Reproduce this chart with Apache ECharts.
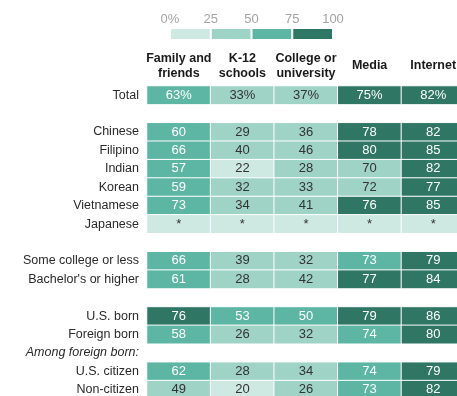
<!DOCTYPE html>
<html>
<head>
<meta charset="utf-8">
<script src="https://cdn.jsdelivr.net/npm/echarts@6/dist/echarts.min.js"></script>
<style>
  html, body { margin: 0; padding: 0; background: #fff; }
  #chart { width: 457px; height: 396px; }
</style>
</head>
<body>
<div id="chart"></div>
<script>
const columns = ['Family and\nfriends', 'K-12\nschools', 'College or\nuniversity', 'Media', 'Internet']

// '' rows are spacer gaps, '#among' is the italic subheading row
const rowLabels = [
  'Total', '',
  'Chinese', 'Filipino', 'Indian', 'Korean', 'Vietnamese', 'Japanese', '',
  'Some college or less', "Bachelor's or higher", '',
  'U.S. born', 'Foreign born', '#among', 'U.S. citizen', 'Non-citizen'
]

// percentages per row (null = too few cases, shown as *)
const rowValues = {
  'Total': [63, 33, 37, 75, 82],
  'Chinese': [60, 29, 36, 78, 82],
  'Filipino': [66, 40, 46, 80, 85],
  'Indian': [57, 22, 28, 70, 82],
  'Korean': [59, 32, 33, 72, 77],
  'Vietnamese': [73, 34, 41, 76, 85],
  'Japanese': [null, null, null, null, null],
  'Some college or less': [66, 39, 32, 73, 79],
  "Bachelor's or higher": [61, 28, 42, 77, 84],
  'U.S. born': [76, 53, 50, 79, 86],
  'Foreign born': [58, 26, 32, 74, 80],
  'U.S. citizen': [62, 28, 34, 74, 79],
  'Non-citizen': [49, 20, 26, 73, 82]
}

// shade bucket as drawn in the source (0 = lightest .. 3 = darkest)
const rowShades = {
  'Total': [2, 1, 1, 3, 3],
  'Chinese': [2, 1, 1, 3, 3],
  'Filipino': [2, 1, 1, 3, 3],
  'Indian': [2, 0, 1, 1, 3],
  'Korean': [2, 1, 1, 1, 3],
  'Vietnamese': [2, 1, 1, 3, 3],
  'Japanese': [0, 0, 0, 0, 0],
  'Some college or less': [2, 1, 1, 2, 3],
  "Bachelor's or higher": [2, 1, 1, 3, 3],
  'U.S. born': [3, 2, 2, 3, 3],
  'Foreign born': [2, 1, 1, 2, 3],
  'U.S. citizen': [2, 1, 1, 2, 3],
  'Non-citizen': [1, 0, 1, 2, 3]
}

const legendBreaks = [0, 25, 50, 75, 100]
const shades = ['#cde9e2', '#9fd3c6', '#5db6a3', '#2f7664']

const chart = echarts.init(document.getElementById('chart'))
const font = '"Liberation Sans", Arial, sans-serif'

const cells = []
rowLabels.forEach((name, y) => {
  const vals = rowValues[name]
  if (!vals) return
  vals.forEach((v, x) => {
    const shade = rowShades[name][x]
    let text = v === null ? '*' : String(v)
    if (name === 'Total') text += '%'
    cells.push({
      value: [x, y, v === null ? 0 : v],
      itemStyle: { color: shades[shade] },
      label: { formatter: text, color: shade >= 2 ? '#fff' : '#333' }
    })
  })
})

const legendSeries = shades.map((c, i) => ({
  type: 'bar',
  xAxisIndex: 1,
  yAxisIndex: 1,
  stack: 'legend',
  barWidth: '100%',
  silent: true,
  data: [legendBreaks[i + 1] - legendBreaks[i]],
  itemStyle: { color: c, borderColor: '#fff', borderWidth: 1 }
}))

chart.setOption({
  animation: false,
  textStyle: { fontFamily: font },
  grid: [
    { left: 147, width: 318, top: 86, height: 313, outerBoundsMode: 'none' },
    { left: 170, width: 163, top: 28, height: 12, outerBoundsMode: 'none' }
  ],
  xAxis: [
    {
      type: 'category',
      data: columns,
      position: 'top',
      axisLine: { show: false },
      axisTick: { show: false },
      splitLine: { show: false },
      axisLabel: {
        interval: 0,
        margin: 20,
        verticalAlign: 'middle',
        fontSize: 12.5,
        fontWeight: 'bold',
        lineHeight: 15,
        color: '#1a1a1a',
        fontFamily: font
      }
    },
    {
      type: 'value',
      gridIndex: 1,
      min: 0,
      max: 100,
      interval: 25,
      position: 'top',
      axisLine: { show: false },
      axisTick: { show: false },
      splitLine: { show: false },
      axisLabel: {
        margin: 2,
        fontSize: 13,
        color: '#a3a3a3',
        fontFamily: font,
        formatter: v => (v === 0 ? '0%' : String(v))
      }
    }
  ],
  yAxis: [
    {
      type: 'category',
      data: rowLabels,
      inverse: true,
      axisLine: { show: false },
      axisTick: { show: false },
      splitLine: { show: false },
      axisLabel: {
        interval: 0,
        margin: 8,
        fontSize: 12.5,
        color: '#2a2a2a',
        fontFamily: font,
        formatter: v => (v === '#among' ? '{it|Among foreign born:}' : v),
        rich: { it: { fontStyle: 'italic', fontSize: 12.5, color: '#2a2a2a', fontFamily: font } }
      }
    },
    {
      type: 'category',
      gridIndex: 1,
      data: ['scale'],
      show: false
    }
  ],
  series: [
    {
      type: 'heatmap',
      data: cells,
      silent: true,
      itemStyle: { borderColor: '#fff', borderWidth: 1 },
      label: { show: true, fontSize: 13, fontFamily: font },
      emphasis: { disabled: true }
    },
    ...legendSeries
  ]
})
</script>
</body>
</html>
